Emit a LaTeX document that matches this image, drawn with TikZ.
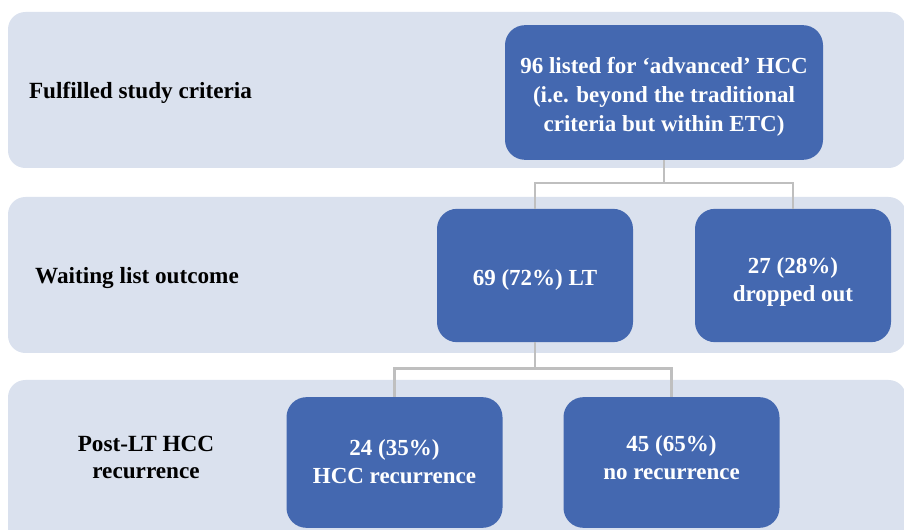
\documentclass[tikz,border=0pt]{standalone}
\usepackage{fontspec}
\setmainfont{Liberation Serif}
\definecolor{bandfill}{HTML}{DAE1EE}
\definecolor{boxfill}{HTML}{4468B0}
\definecolor{linkgray}{HTML}{BFBFBF}
\begin{document}
\begin{tikzpicture}[x=0.75pt, y=-0.75pt,
    band/.style={fill=bandfill, rounded corners=13pt},
    stage/.style={font=\fontsize{17.4}{20.5}\selectfont\bfseries, align=center},
    result/.style={fill=boxfill, rounded corners=15pt, inner sep=0pt, text=white,
        font=\fontsize{17.25}{21}\selectfont\bfseries, align=center, text depth=0pt},
    lastbase/.style={text height=#1}]
    \tikzset{link/.style={draw=linkgray, line width=2pt}}
    \useasboundingbox (0,0) rectangle (904,530);
    \clip (0,0) rectangle (904,530);

    % Bandes de fond
    \fill[band] (8,12) rectangle (906,168);
    \fill[band] (8,197) rectangle (906,353);
    \fill[band] (8,380) rectangle (906,560);

    % Etapes
    \node[stage, anchor=base] (criteria) at (140.5,99) {Fulfilled study criteria};
    \node[stage, anchor=base] (waiting) at (137,284) {Waiting list outcome};
    \node[stage] (postlt) at (146,457.5) {Post-LT HCC\\recurrence};

    % Niveau 1
    \node[result, lastbase=58.5pt, font=\fontsize{17.25}{21.75}\selectfont\bfseries,
        minimum width=238.5pt, minimum height=101pt] (listed) at (664,92.5)
        {96 listed for ‘advanced’ HCC\\(i.e. beyond the traditional\\criteria but within ETC)};

    % Niveau 2
    \node[result, lastbase=15.75pt, minimum width=147pt, minimum height=100pt] (lt) at (535,275.5)
        {69 (72\%) LT};
    \node[result, lastbase=39.75pt, minimum width=147pt, minimum height=100pt] (drop) at (793,275.5)
        {27 (28\%)\\dropped out};

    % Niveau 3
    \node[result, lastbase=32.25pt, minimum width=162pt, minimum height=98pt] (recur) at (394.5,462.5)
        {24 (35\%)\\HCC recurrence};
    \node[result, lastbase=25.5pt, minimum width=162pt, minimum height=98pt] (norecur) at (671.5,462.5)
        {45 (65\%)\\no recurrence};

    % Liaisons
    \draw[link] (listed.south) -- ++(0,23) -| (lt.north);
    \draw[link] (listed.south) -- ++(0,23) -| (drop.north);
    \draw[link] (lt.south) -- ++(0,26) -| (recur.north);
    \draw[link] (lt.south) -- ++(0,26) -| (norecur.north);
\end{tikzpicture}
\end{document}
